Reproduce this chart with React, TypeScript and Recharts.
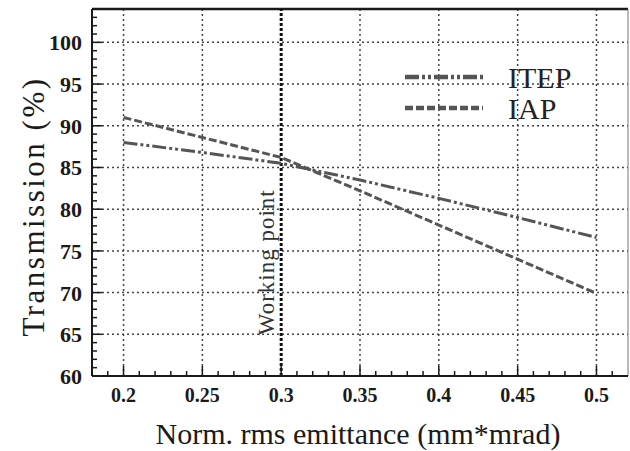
import {
  CartesianGrid,
  Legend,
  Line,
  LineChart,
  ReferenceLine,
  XAxis,
  YAxis,
} from "recharts";

const emittance = [0.2, 0.25, 0.3, 0.35, 0.4, 0.45, 0.5];
const itep = [88.0, 86.8, 85.5, 83.5, 81.3, 79.0, 76.6];
const iap = [91.0, 88.6, 86.2, 82.2, 78.1, 74.0, 69.9];

const xMajor = [0.2, 0.25, 0.3, 0.35, 0.4, 0.45, 0.5];
const yMajor = [60, 65, 70, 75, 80, 85, 90, 95, 100];
const workingPoint = 0.3;

const xTitle = "Norm. rms emittance (mm*mrad)";
const yTitle = "Transmission (%)";
const workingLabel = "Working point";

const data = emittance.map((x, i) => ({ x, itep: itep[i], iap: iap[i] }));

// minor tick positions (every 0.01 / every 1 %)
const xMinor = Array.from({ length: 33 }, (_, i) => Math.round((0.19 + i * 0.01) * 100) / 100);
const yMinor = Array.from({ length: 44 }, (_, i) => 60 + i);

const FONT = "'Liberation Serif', 'DejaVu Serif', serif";
const INK = "#1a1a1a";
const LINE = "#555";
const ITEP_DASH = "14 3 3 3 3 3";
const IAP_DASH = "8 3";

const isMajor = (v: number, list: number[]) => list.some((m) => Math.abs(m - v) < 1e-6);

function XTick({ x, y, payload }: any) {
  const v = payload.value;
  const major = isMajor(v, xMajor);
  return (
    <g>
      <line x1={x} x2={x} y1={y} y2={y - (major ? 10 : 5)} stroke={INK} strokeWidth={1.5} />
      {major && (
        <text x={x} y={y + 26} textAnchor="middle" fontFamily={FONT} fontWeight="bold" fontSize={20} fill={INK}>
          {String(v)}
        </text>
      )}
    </g>
  );
}

function YTick({ x, y, payload }: any) {
  const v = payload.value;
  const major = isMajor(v, yMajor);
  return (
    <g>
      <line x1={x} x2={x + (major ? 10 : 5)} y1={y} y2={y} stroke={INK} strokeWidth={1.5} />
      {major && (
        <text x={x - 10} y={y + 8} textAnchor="end" fontFamily={FONT} fontWeight="bold" fontSize={22} fill={INK}>
          {String(v)}
        </text>
      )}
    </g>
  );
}

function YTitle({ viewBox }: any) {
  const cx = viewBox.x + 33;
  const cy = viewBox.y + viewBox.height / 2 + 14;
  return (
    <text
      x={cx}
      y={cy}
      transform={`rotate(-90, ${cx}, ${cy})`}
      textAnchor="middle"
      dominantBaseline="central"
      fontFamily={FONT}
      fontSize={31}
      letterSpacing={2.5}
      fill={INK}
    >
      {yTitle}
    </text>
  );
}

function XTitle({ viewBox }: any) {
  return (
    <text
      x={viewBox.x + viewBox.width / 2 - 2}
      y={viewBox.y + 68}
      textAnchor="middle"
      fontFamily={FONT}
      fontSize={30}
      fill={INK}
    >
      {xTitle}
    </text>
  );
}

function WorkingLabel({ viewBox }: any) {
  const cx = viewBox.x - 7;
  const cy = viewBox.y + viewBox.height * 0.69;
  return (
    <text
      x={cx}
      y={cy}
      transform={`rotate(-90, ${cx}, ${cy})`}
      textAnchor="middle"
      fontFamily={FONT}
      fontSize={23}
      letterSpacing={1}
      fill="#333"
    >
      {workingLabel}
    </text>
  );
}

function LegendBox() {
  const rows = [
    { name: "ITEP", dash: ITEP_DASH },
    { name: "IAP", dash: IAP_DASH },
  ];
  return (
    <svg width={200} height={70}>
      {rows.map((r, i) => (
        <g key={r.name}>
          <line x1={10} x2={88} y1={16 + i * 31} y2={16 + i * 31} stroke={LINE} strokeWidth={4.5} strokeDasharray={r.dash} />
          <text x={113} y={27 + i * 31} fontFamily={FONT} fontSize={30} fill="#222">
            {r.name}
          </text>
        </g>
      ))}
    </svg>
  );
}

export default function App() {
  return (
    <div style={{ position: "absolute", left: 0, top: 0, width: 630, height: 451, background: "#fff" }}>
      <LineChart width={630} height={451} data={data} margin={{ top: 9, right: 2, left: 0, bottom: 0 }}>
        <CartesianGrid
          stroke="#444"
          strokeWidth={1.5}
          strokeDasharray="2 3"
          horizontalValues={yMajor}
          verticalValues={xMajor}
        />
        <XAxis
          dataKey="x"
          type="number"
          domain={[0.18, 0.52]}
          ticks={xMinor}
          interval={0}
          tickSize={0}
          tickMargin={0}
          tick={<XTick />}
          tickLine={false}
          axisLine={{ stroke: INK, strokeWidth: 2 }}
          height={75}
          allowDataOverflow
          label={<XTitle />}
        />
        <YAxis
          type="number"
          domain={[60, 104]}
          ticks={yMinor}
          interval={0}
          tickSize={0}
          tickMargin={0}
          tick={<YTick />}
          tickLine={false}
          axisLine={{ stroke: INK, strokeWidth: 2 }}
          width={92}
          allowDataOverflow
          label={<YTitle />}
        />
        <ReferenceLine y={104} stroke={INK} strokeWidth={2.5} />
        <ReferenceLine x={0.52} stroke="#777" strokeWidth={1} />
        <ReferenceLine
          x={workingPoint}
          stroke="#111"
          strokeWidth={3}
          strokeDasharray="3 2"
          label={<WorkingLabel />}
        />
        <Line
          type="linear"
          dataKey="itep"
          name="ITEP"
          stroke={LINE}
          strokeWidth={3}
          strokeDasharray={ITEP_DASH}
          dot={false}
          isAnimationActive={false}
        />
        <Line
          type="linear"
          dataKey="iap"
          name="IAP"
          stroke={LINE}
          strokeWidth={3}
          strokeDasharray={IAP_DASH}
          dot={false}
          isAnimationActive={false}
        />
        <Legend
          layout="horizontal"
          verticalAlign="middle"
          align="center"
          content={<LegendBox />}
          wrapperStyle={{ left: 395, top: 61, width: 200, height: 70 }}
        />
      </LineChart>
    </div>
  );
}
